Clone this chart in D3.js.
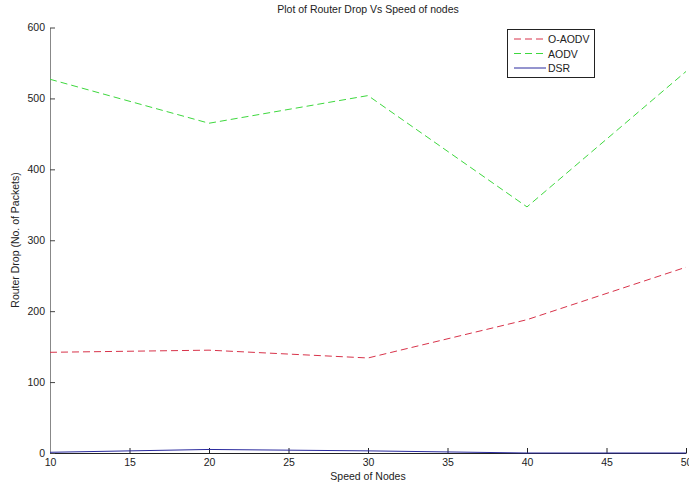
<!DOCTYPE html>
<html><head><meta charset="utf-8">
<script src="https://cdn.jsdelivr.net/npm/d3@7"></script>
<style>
body{margin:0;background:#fff;}
text{font-family:"Liberation Sans",Arial,Helvetica,sans-serif;}
</style></head>
<body>
<svg id="c" width="689" height="483"></svg>
<script>
const speeds = [10, 20, 30, 40, 50];
const oaodv = [142, 145, 134, 188, 262];
const aodv = [527, 465, 504, 347, 538];
const dsr = [1, 5, 3, 0, 0];
const xTicks = [10, 15, 20, 25, 30, 35, 40, 45, 50];
const yTicks = [0, 100, 200, 300, 400, 500, 600];
const seriesNames = ["O-AODV", "AODV", "DSR"];

(function () {
const svg = d3.select("#c");
const pL = 50, pR = 686, pT = 27.5, pB = 453;
const x = d3.scaleLinear().domain([10, 50]).range([pL, pR]);
const y = d3.scaleLinear().domain([0, 600]).range([pB, pT]);

const xAxis = d3.axisBottom(x).tickValues(xTicks).tickSize(-5).tickPadding(6).tickSizeOuter(0);
const gx = svg.append("g").attr("transform", `translate(0,${pB})`).call(xAxis);
gx.select(".domain").attr("stroke", "#222");
gx.selectAll(".tick line").attr("stroke", "#222");
gx.selectAll("text").attr("font-size", 10.5).attr("fill", "#222");

const yAxis = d3.axisLeft(y).tickValues(yTicks).tickSize(-5).tickPadding(5).tickSizeOuter(0);
const gy = svg.append("g").attr("transform", `translate(${pL},0)`).call(yAxis);
gy.select(".domain").attr("stroke", "#888");
gy.selectAll(".tick line").attr("stroke", "#444");
gy.selectAll("text").attr("font-size", 10.5).attr("fill", "#222");

const line = d3.line().x((d, i) => x(speeds[i])).y(d => y(d));
const series = [
  {name: seriesNames[0], data: oaodv, color: "#d8334a", dash: "7,4"},
  {name: seriesNames[1], data: aodv, color: "#3ed83e", dash: "7,4"},
  {name: seriesNames[2], data: dsr, color: "#2a2a9e", dash: null}
];
series.forEach(s => {
  svg.append("path").datum(s.data).attr("d", line)
    .attr("fill", "none").attr("stroke", s.color).attr("stroke-width", 1)
    .attr("stroke-dasharray", s.dash);
});

svg.append("text").attr("x", 368).attr("y", 13).attr("text-anchor", "middle")
  .attr("font-size", 10.5).attr("fill", "#222").text("Plot of Router Drop Vs Speed of nodes");
svg.append("text").attr("x", 368).attr("y", 480).attr("text-anchor", "middle")
  .attr("font-size", 10.5).attr("fill", "#222").text("Speed of Nodes");
svg.append("text").attr("transform", "translate(19,240) rotate(-90)").attr("text-anchor", "middle")
  .attr("font-size", 10.5).attr("fill", "#222").text("Router Drop (No. of Packets)");

const lg = svg.append("g");
lg.append("rect").attr("x", 507.5).attr("y", 29.5).attr("width", 87).attr("height", 48)
  .attr("fill", "#fff").attr("stroke", "#222");
series.forEach((s, i) => {
  const yy = 39 + i * 14.5;
  lg.append("line").attr("x1", 514).attr("x2", 546).attr("y1", yy).attr("y2", yy)
    .attr("stroke", s.color).attr("stroke-dasharray", s.dash);
  lg.append("text").attr("x", 548).attr("y", yy + 4).attr("font-size", 10.5)
    .attr("fill", "#222").text(s.name);
});
})();
</script>
</body></html>
